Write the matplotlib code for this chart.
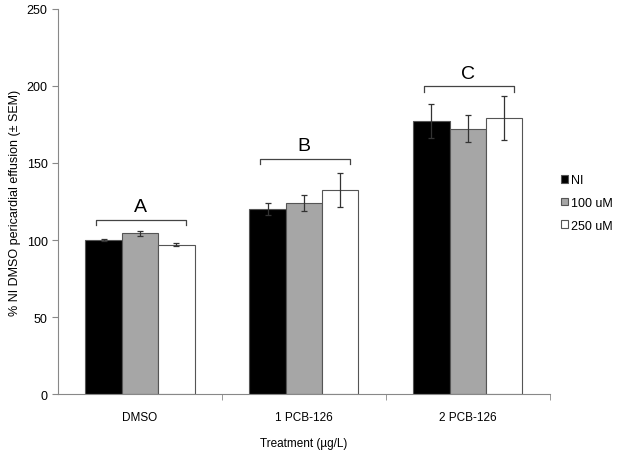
import numpy as np
import matplotlib.pyplot as plt

plt.rcParams['font.family'] = ['Liberation Sans', 'DejaVu Sans']

groups = ['DMSO', '1 PCB-126', '2 PCB-126']
series = ['NI', '100 uM', '250 uM']
ni = [100, 120, 177.5]
ni_err = [0.7, 3.7, 11]
mid = [104.3, 124.2, 172.3]
mid_err = [1.6, 5.2, 8.6]
high = [96.9, 132.5, 179.4]
high_err = [1.0, 10.8, 14.3]
letters = ['A', 'B', 'C']
bracket_y = [113, 152.6, 199.8]

colors = ['black', '#a6a6a6', 'white']

fig = plt.figure(figsize=(6.24, 4.52), dpi=100)
ax = fig.add_axes([0.093, 0.126, 0.788, 0.852])

x = np.arange(len(groups))
w = 0.222
vals = [ni, mid, high]
errs = [ni_err, mid_err, high_err]
for i in range(3):
    ax.bar(x + (i - 1) * w, vals[i], w, color=colors[i], edgecolor='#555555',
           linewidth=0.8, label=series[i], zorder=2)
    ax.errorbar(x + (i - 1) * w, vals[i], yerr=errs[i], fmt='none',
                ecolor='#333333', elinewidth=0.9, capsize=2.5, capthick=0.9, zorder=3)

for j in range(3):
    x0 = j - 0.27
    x1 = j + 0.28
    y = bracket_y[j]
    ax.plot([x0, x0, x1, x1], [y - 3.5, y, y, y - 3.5], color='#444444', lw=0.9)
    ax.text(j, y + 3, letters[j], ha='center', va='bottom', fontsize=14)

ax.set_xlim(-0.5, 2.5)
ax.set_ylim(0, 250)
ax.set_yticks([0, 50, 100, 150, 200, 250])
ax.set_xticks(x)
ax.set_xticklabels(groups, fontsize=8.5)
ax.set_xticks([0.5, 1.5, 2.5], minor=True)
ax.tick_params(axis='x', which='major', length=0, pad=12)
ax.tick_params(axis='x', which='minor', length=4, color='#888888')
ax.tick_params(axis='y', labelsize=9, length=4, color='#888888')
for s in ['top', 'right']:
    ax.spines[s].set_visible(False)
for s in ['left', 'bottom']:
    ax.spines[s].set_color('#888888')

ax.set_ylabel('% NI DMSO pericardial effusion (± SEM)', fontsize=9)
ax.set_xlabel('Treatment (\u00b5g/L)', fontsize=8.5, labelpad=10)

ax.legend(loc='center left', bbox_to_anchor=(1.0, 0.496), frameon=False,
          fontsize=9, handlelength=0.55, handleheight=0.55, handletextpad=0.25,
          labelspacing=0.85)

plt.savefig('out.png', dpi=100)
